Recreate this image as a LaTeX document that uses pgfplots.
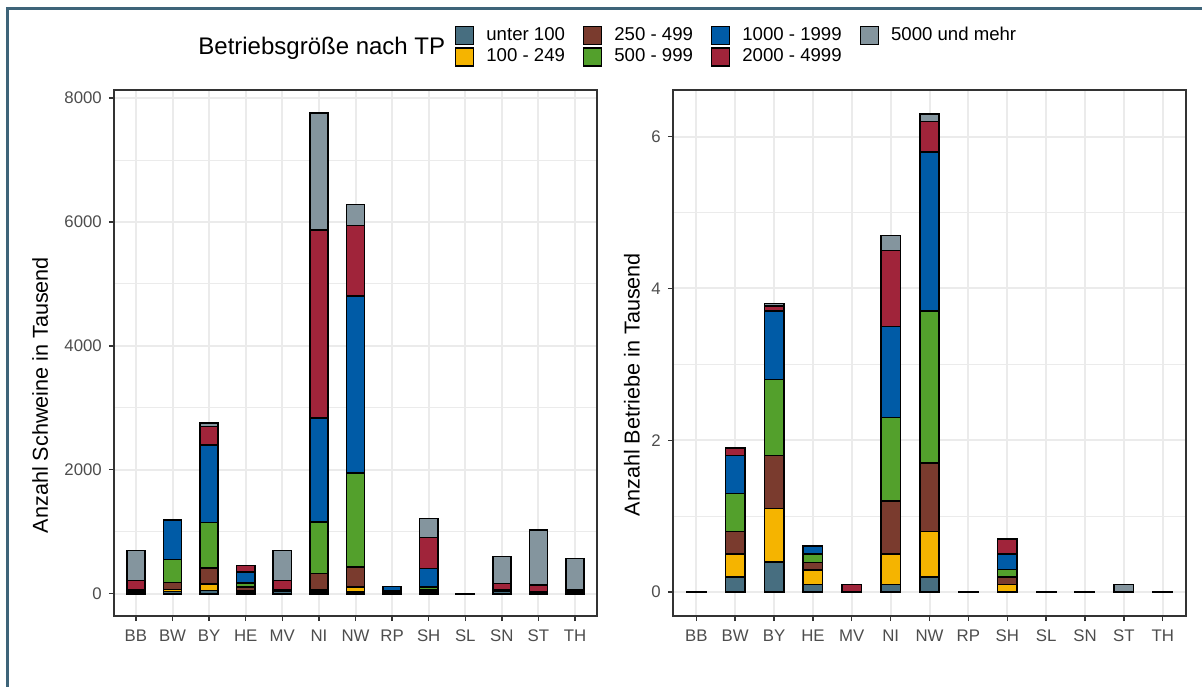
\documentclass[border=0pt]{standalone}
\usepackage{pgfplots}
\pgfplotsset{compat=1.18}
\usepackage{pgfplotstable}
\usepackage{fontspec}
\setmainfont{Liberation Sans}

\definecolor{c1}{HTML}{476E80}
\definecolor{c2}{HTML}{F5B400}
\definecolor{c3}{HTML}{7A3B2E}
\definecolor{c4}{HTML}{53A02C}
\definecolor{c5}{HTML}{005BA6}
\definecolor{c6}{HTML}{A0243A}
\definecolor{c7}{HTML}{84959E}
\definecolor{gridc}{HTML}{EBEBEB}
\definecolor{axc}{HTML}{333333}
\definecolor{tickc}{HTML}{4D4D4D}
\definecolor{framec}{HTML}{3E6479}

% Anzahl Schweine in Tausend
\pgfplotstableread{
x u100 b100 b250 b500 b1000 b2000 b5000
0  30  10  10   5   10  150  485
1  35  35 110 370  644    0    0
2  50 110 255 735 1253  296   54
3  30  20  55  65  177  110    0
4  40   5  10   5    5  150  485
5  25  30 270 830 1680 3040 1880
6  25  80 330 1510 2860 1135 345
7  30   0  10  10   65    0    0
8  30  10  20  45  300  500  310
9   0.01 0 0   0    0    0    0
10 40   5   5   2    3  108  440
11 20   2   2   1    1  110  890
12 15   0  15   5    5   20  510
}\schweine

% Anzahl Betriebe in Tausend
\pgfplotstableread{
x u100 b100 b250 b500 b1000 b2000 b5000
0  0.0001 0  0    0    0    0    0
1  0.20 0.30 0.30 0.50 0.50 0.10 0
2  0.40 0.70 0.70 1.00 0.90 0.07 0.03
3  0.10 0.19 0.10 0.11 0.11 0    0
4  0    0    0    0    0    0.10 0
5  0.10 0.40 0.70 1.10 1.20 1.00 0.20
6  0.20 0.60 0.90 2.00 2.10 0.40 0.10
7  0.0001 0  0    0    0    0    0
8  0.01 0.09 0.10 0.10 0.20 0.20 0
9  0.0001 0  0    0    0    0    0
10 0.0001 0  0    0    0    0    0
11 0    0    0    0    0    0    0.10
12 0.0001 0  0    0    0    0    0
}\betriebe

\pgfplotsset{
  panel/.style={
    scale only axis, height=263pt,
    ybar stacked, bar width=0.5,
    xmin=-0.6, xmax=12.6,
    xtick={0,...,12},
    xticklabels={BB,BW,BY,HE,MV,NI,NW,RP,SH,SL,SN,ST,TH},
    xtick pos=bottom, ytick pos=left,
    xmajorgrids, ymajorgrids, yminorgrids,
    grid style={color=gridc, line width=1pt},
    minor grid style={color=gridc, line width=0.5pt},
    axis line style={color=axc, line width=0.7pt},
    tick align=outside, major tick length=2.6pt, minor tick length=0pt,
    tick style={color=axc, line width=0.7pt},
    ticklabel style={font=\fontsize{8.4}{10}\selectfont, text=tickc},
    yticklabel style={inner sep=1.5pt, xshift=-1.8pt},
    xticklabel style={inner sep=1.5pt, yshift=-2.5pt},
    /pgf/number format/assume math mode=true,
    /pgf/number format/1000 sep={},
    ylabel style={font=\fontsize{10.8}{13}\selectfont, text=black},
    every axis plot/.append style={draw=black, line width=0.8pt},
  }
}

\begin{document}
\begin{tikzpicture}
\useasboundingbox (0pt,0pt) rectangle (601pt,343pt);

\begin{axis}[panel,
  at={(57pt,35pt)}, anchor=south west, width=241.5pt,
  ymin=-360, ymax=8130,
  ytick={0,2000,4000,6000,8000},
  minor ytick={1000,3000,5000,7000},
  ylabel={Anzahl Schweine in Tausend},
  ylabel style={at={(axis description cs:-0.153,0.42)}, anchor=center},
  legend columns=4,
  legend cell align=left,
  legend style={at={(0.706,1.1217)}, anchor=north west, draw=none, fill=none,
    inner sep=0pt, outer sep=0pt,
    font=\fontsize{9.3}{11}\selectfont,
    nodes={inner sep=0pt, text height=6.8pt, text depth=1.9pt},
    /tikz/every odd column/.append style={column sep=6pt},
    /tikz/every even column/.append style={column sep=9pt},
    row sep=1pt},
  legend image code/.code={\draw[#1, draw=black, line width=0.7pt] (0pt,-4.5pt) rectangle (9pt,4.5pt);},
]
\addlegendimage{fill=c1}\addlegendentry{unter 100}
\addlegendimage{fill=c3}\addlegendentry{250 - 499}
\addlegendimage{fill=c5}\addlegendentry{1000 - 1999}
\addlegendimage{fill=c7}\addlegendentry{5000 und mehr}
\addlegendimage{fill=c2}\addlegendentry{100 - 249}
\addlegendimage{fill=c4}\addlegendentry{500 - 999}
\addlegendimage{fill=c6}\addlegendentry{2000 - 4999}
\addplot[fill=c1] table[x=x,y=u100]{\schweine};
\addplot[fill=c2] table[x=x,y=b100]{\schweine};
\addplot[fill=c3] table[x=x,y=b250]{\schweine};
\addplot[fill=c4] table[x=x,y=b500]{\schweine};
\addplot[fill=c5] table[x=x,y=b1000]{\schweine};
\addplot[fill=c6] table[x=x,y=b2000]{\schweine};
\addplot[fill=c7] table[x=x,y=b5000]{\schweine};
\end{axis}

\begin{axis}[panel,
  at={(336.5pt,35pt)}, anchor=south west, width=256.5pt,
  ymin=-0.315, ymax=6.615,
  ytick={0,2,4,6},
  minor ytick={1,3,5},
  ylabel={Anzahl Betriebe in Tausend},
  ylabel style={at={(axis description cs:-0.08,0.44)}, anchor=center},
]
\addplot[fill=c1] table[x=x,y=u100]{\betriebe};
\addplot[fill=c2] table[x=x,y=b100]{\betriebe};
\addplot[fill=c3] table[x=x,y=b250]{\betriebe};
\addplot[fill=c4] table[x=x,y=b500]{\betriebe};
\addplot[fill=c5] table[x=x,y=b1000]{\betriebe};
\addplot[fill=c6] table[x=x,y=b2000]{\betriebe};
\addplot[fill=c7] table[x=x,y=b5000]{\betriebe};
\end{axis}

\node[anchor=west, inner sep=0pt, font=\fontsize{12}{14}\selectfont] at (99pt,319pt) {Betriebsgröße nach TP};

\draw[color=framec, line width=1.3pt] (3.65pt,-10pt) -- (3.65pt,338.85pt) -- (620pt,338.85pt);
\end{tikzpicture}
\end{document}
